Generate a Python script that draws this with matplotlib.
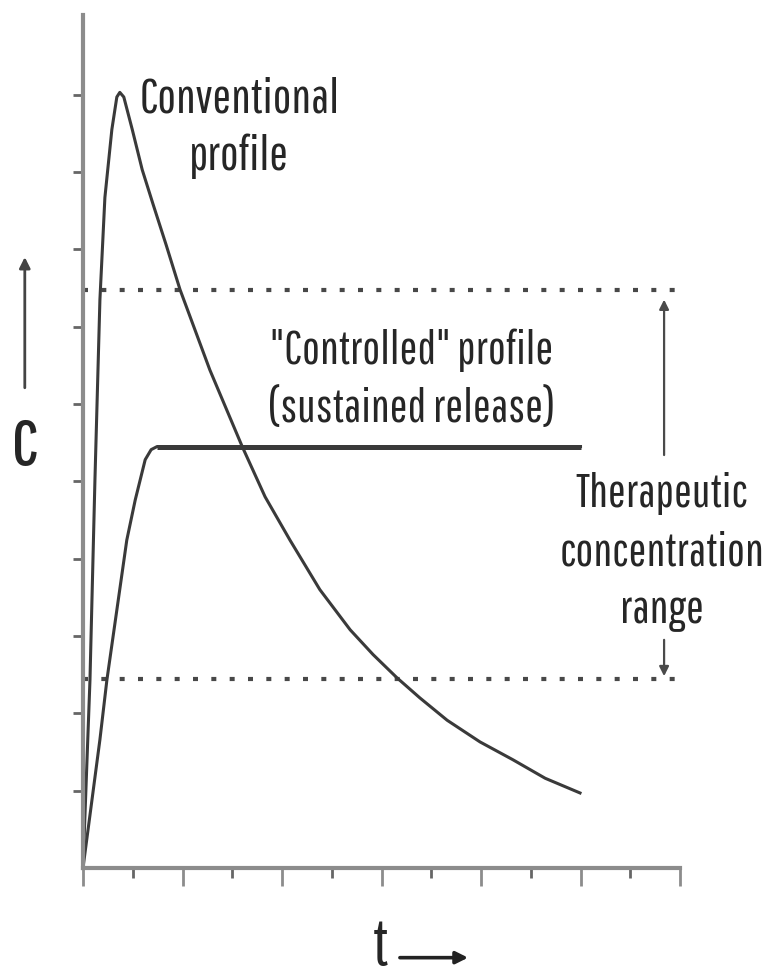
import matplotlib
matplotlib.use("Agg")
import matplotlib.pyplot as plt
from matplotlib.ticker import MultipleLocator

# data (t, c in tick units)
conv_t = [0, 0.14, 0.24, 0.34, 0.44, 0.58, 0.68, 0.74, 0.82, 0.99, 1.19, 1.41,
          1.67, 1.95, 2.55, 3.20, 3.66, 4.16, 4.76, 5.37, 5.83, 6.31, 6.77,
          7.32, 7.98, 8.64, 9.29, 9.99]
conv_c = [0, 2.43, 5.02, 7.35, 8.67, 9.55, 9.97, 10.03, 9.97, 9.55, 9.03, 8.58,
          8.06, 7.48, 6.44, 5.45, 4.80, 4.24, 3.60, 3.08, 2.76, 2.46, 2.20,
          1.91, 1.63, 1.40, 1.16, 0.97]
ctrl_t = [0, 0.34, 0.48, 0.88, 1.05, 1.25, 1.37, 1.49, 10.0]
ctrl_c = [0, 1.66, 2.43, 4.24, 4.76, 5.28, 5.41, 5.45, 5.45]
range_hi = 7.48
range_lo = 2.45

FONT = ["Pathway Gothic One", "DejaVu Sans"]
TXT = "#262626"
LINE = "#3a3a3a"
AXC = "#8c8c8c"

fig = plt.figure(figsize=(7.65, 9.77), dpi=100)
ax = fig.add_axes([0.1085, 0.1116, 0.7804, 0.873])
ax.set_xlim(0, 12)
ax.set_ylim(0, 11.03)

for s in ["top", "right"]:
    ax.spines[s].set_visible(False)
for s in ["left", "bottom"]:
    ax.spines[s].set_color(AXC)
    ax.spines[s].set_linewidth(3)

ax.xaxis.set_major_locator(MultipleLocator(2))
ax.xaxis.set_minor_locator(MultipleLocator(1))
ax.set_yticks(range(1, 11))
ax.tick_params(axis="x", which="major", length=13, width=2, color=AXC, direction="out")
ax.tick_params(axis="x", which="minor", length=7, width=2, color="#666666", direction="out")
ax.tick_params(axis="y", which="major", length=7, width=2, color="#666666", direction="out")
ax.set_xticklabels([])
ax.set_yticklabels([])

# therapeutic window
ax.axhline(range_hi, color="#484848", lw=3, linestyle=(0, (1.2, 3.2)))
ax.axhline(range_lo, color="#484848", lw=3, linestyle=(0, (1.2, 3.2)))

# profiles
ax.plot(conv_t, conv_c, color=LINE, lw=2.2, solid_joinstyle="round")
ax.plot(ctrl_t, ctrl_c, color=LINE, lw=2.2, solid_joinstyle="round")
ax.plot(ctrl_t[-2:], ctrl_c[-2:], color=LINE, lw=3.6, solid_capstyle="butt")

# labels (va="baseline" pins the last line)
ax.text(3.14, 9.03, "Conventional\nprofile", family=FONT, fontsize=35.5, color=TXT,
        ha="center", va="baseline", linespacing=1.31, multialignment="center")
ax.text(6.61, 5.77, "\"Controlled\" profile\n(sustained release)", family=FONT,
        fontsize=34, color=TXT, ha="center", va="baseline", linespacing=1.42,
        multialignment="center")
ax.text(11.64, 3.17, "Therapeutic\nconcentration\nrange", family=FONT, fontsize=34,
        color=TXT, ha="center", va="baseline", linespacing=1.42,
        multialignment="center", clip_on=False)

# range arrows
arr = dict(arrowstyle="-|>", color="#4a4a4a", lw=1.6, mutation_scale=14, shrinkA=0, shrinkB=0)
ax.annotate("", xy=(11.68, range_hi - 0.13), xytext=(11.68, 5.34), arrowprops=arr,
            annotation_clip=False)
ax.annotate("", xy=(11.68, range_lo + 0.03), xytext=(11.68, 2.95), arrowprops=arr,
            annotation_clip=False)

# axis names with arrows
ax.text(-1.17, 5.51, "c", family=FONT, fontsize=58, style="italic", color=TXT,
        ha="center", va="center", clip_on=False)
ax.annotate("", xy=(-1.17, 7.90), xytext=(-1.17, 6.21),
            arrowprops=dict(arrowstyle="-|>", color="#444444", lw=2, mutation_scale=16,
                            shrinkA=0, shrinkB=0), annotation_clip=False)
ax.text(5.97, -1.02, "t", family=FONT, fontsize=46, style="italic", color=TXT,
        ha="center", va="center", clip_on=False)
ax.annotate("", xy=(7.74, -1.16), xytext=(6.37, -1.16),
            arrowprops=dict(arrowstyle="-|>", color="#222222", lw=2.6, mutation_scale=18,
                            shrinkA=0, shrinkB=0), annotation_clip=False)

fig.savefig("out.png", dpi=100)
